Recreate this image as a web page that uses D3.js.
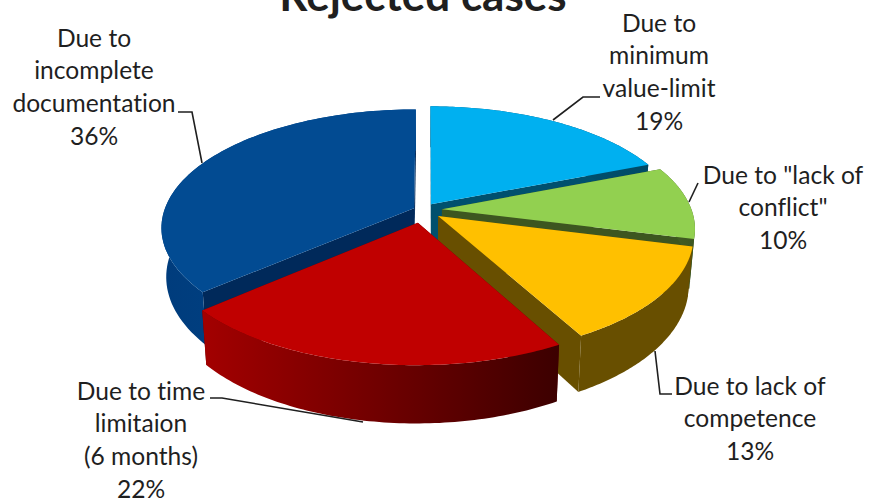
<!DOCTYPE html>
<html>
<head>
<meta charset="utf-8">
<style>
  html, body { margin: 0; background: #fff; }
  svg { display: block; }
  text { font-family: Lato, "Open Sans", sans-serif; fill: #1f1f1f; font-variant-ligatures: none; }
</style>
<script src="https://cdn.jsdelivr.net/npm/d3@7"></script>
</head>
<body>
<div id="chart"></div>
<script>
const categories = [
    ['Due to', 'minimum', 'value-limit'],
    ['Due to "lack of', 'conflict"'],
    ['Due to lack of', 'competence'],
    ['Due to time', 'limitaion', '(6 months)'],
    ['Due to', 'incomplete', 'documentation']
]
const values = [19, 10, 13, 21.6, 36.4]
const topColors = ['#00b0f0', '#92d050', '#ffc000', '#c00000', '#024b92']
const cutColors = ['#00506e', '#3d5620', '#684f00', '#5c0000', '#00295a']
const wallStart = ['#005a7c', '#466326', '#684f00', '#a30000', '#003c7c']
const wallEnd = ['#004a66', '#3d5620', '#684f00', '#3c0000', '#00488e']

// pulled-out offset of every slice on the pie's ground plane
const explode = [[4, -15], [15, -4], [11, 11], [-9, 25], [-13, -6]]

const width = 869
const height = 500
const cx = 427
const cy = 211
const radius = 250
const tilt = 0.462
const perspective = 0.16
const depth = 48
const shrink = 0.018

// label anchor x, first line middle y, leader line
const labelPos = [
    { x: 659, y: 23, leader: [[600, 97], [583, 97], [553, 120]] },
    { x: 783, y: 175, leader: [[698, 183], [689, 202]] },
    { x: 750, y: 386, leader: [[672, 394], [660, 394], [655, 351]] },
    { x: 141, y: 391, leader: [[210, 398], [222, 398], [363, 422]] },
    { x: 94, y: 38, leader: [[178, 112], [192, 112], [202, 163]] }
]

const svg = d3.select('#chart')
    .append('svg')
    .attr('width', width)
    .attr('height', height)

const slices = d3.pie().sort(null)(values)
const line = d3.line()

// world point on the pie -> screen point, low = true for the bottom face
function project(u, v, low) {
    const s = 1 / (1 - perspective * v / radius)
    const x = u * s * (low ? 1 - shrink : 1)
    const y = tilt * v * s + (low ? depth * s : 0)
    return [cx + x, cy + y]
}

function rimPoints(d, i, low) {
    const [ox, oy] = explode[i]
    const angle = d3.scaleLinear().domain([0, 80]).range([d.startAngle, d.endAngle])
    return d3.range(81).map(t => {
        const a = angle(t)
        return project(ox + radius * Math.sin(a), oy - radius * Math.cos(a), low)
    })
}

function apex(i, low) {
    return project(explode[i][0], explode[i][1], low)
}

const defs = svg.append('defs')
slices.forEach((d, i) => {
    const rim = rimPoints(d, i, false)
    const grad = defs.append('linearGradient')
        .attr('id', `wall${i}`)
        .attr('gradientUnits', 'userSpaceOnUse')
        .attr('x1', d3.min(rim, p => p[0]))
        .attr('x2', d3.max(rim, p => p[0]))
        .attr('y1', 0)
        .attr('y2', 0)
    grad.append('stop').attr('offset', 0).attr('stop-color', wallStart[i])
    grad.append('stop').attr('offset', 1).attr('stop-color', wallEnd[i])
})

// Paint back to front.
const drawOrder = [4, 0, 1, 2, 3]

drawOrder.forEach(i => {
    const d = slices[i]
    const top = rimPoints(d, i, false)
    const bottom = rimPoints(d, i, true)
    const g = svg.append('g').attr('class', 'slice')

    // cut faces
    g.append('path')
        .attr('d', line([apex(i, false), top[0], bottom[0], apex(i, true)]) + 'Z')
        .attr('fill', cutColors[i])
    g.append('path')
        .attr('d', line([apex(i, false), top[80], bottom[80], apex(i, true)]) + 'Z')
        .attr('fill', cutColors[i])

    // outer wall
    g.append('path')
        .attr('d', line(top.concat(bottom.slice().reverse())) + 'Z')
        .attr('fill', `url(#wall${i})`)

    // top face
    g.append('path')
        .attr('d', line([apex(i, false)].concat(top)) + 'Z')
        .attr('fill', topColors[i])
})

// Leader lines.
svg.selectAll('.leader')
    .data(labelPos)
    .enter()
    .append('path')
    .attr('class', 'leader')
    .attr('d', d => line(d.leader))
    .attr('fill', 'none')
    .attr('stroke', '#1f1f1f')
    .attr('stroke-width', 1.6)

// Labels.
categories.forEach((lines, i) => {
    const label = svg.append('text')
        .attr('text-anchor', 'middle')
        .attr('font-size', 24.6)
    lines.concat(`${Math.round(values[i])}%`).forEach((t, n) => {
        label.append('tspan')
            .attr('x', labelPos[i].x)
            .attr('y', labelPos[i].y + 8.7 + n * 32.7)
            .text(t)
    })
})

svg.append('text')
    .attr('x', 423)
    .attr('y', 11)
    .attr('text-anchor', 'middle')
    .attr('font-size', 44)
    .attr('font-weight', 700)
    .text('Rejected cases')
</script>
</body>
</html>
